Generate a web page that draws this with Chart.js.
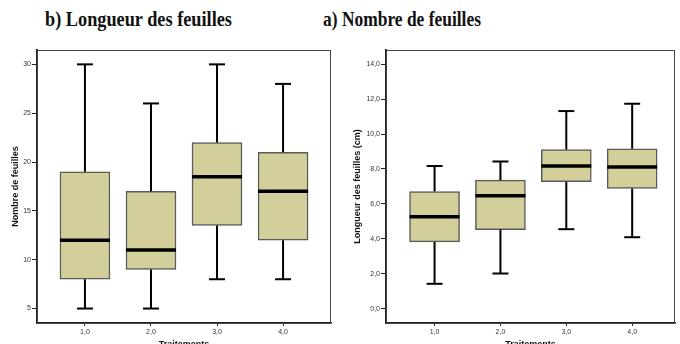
<!DOCTYPE html>
<html>
<head>
    <title>Boxplots feuilles</title>
    <script src="https://cdn.jsdelivr.net/npm/chart.js"></script>
    <style>
        body { margin: 0; width: 680px; height: 344px; overflow: hidden; position: relative; background: #fff; }
        .panel { position: absolute; top: 0; width: 340px; height: 344px; }
        .panel canvas { display: block; }
        .ttl { position: absolute; top: 7px; font: bold 21px "Liberation Serif", serif; color: #111; white-space: nowrap; transform-origin: left top; }
    </style>
</head>
<body>
    <div class="ttl" style="left:45px; transform: scaleX(0.87);">b) Longueur des feuilles</div>
    <div class="ttl" style="left:323px; transform: scaleX(0.83);">a) Nombre de feuilles</div>
    <div class="panel" style="left:0"><canvas id="c1" width="340" height="344"></canvas></div>
    <div class="panel" style="left:340px"><canvas id="c2" width="340" height="344"></canvas></div>

    <script>
        // treatments
        const traitements = [1, 2, 3, 4];

        // left panel: Nombre de feuilles
        const nbMin = [5, 5, 8, 8];
        const nbQ1 = [8, 9, 13.5, 12];
        const nbMed = [12, 11, 18.5, 17];
        const nbQ3 = [19, 17, 22, 21];
        const nbMax = [30, 26, 30, 28];
        const nbTicks = [5, 10, 15, 20, 25, 30];

        // right panel: Longueur des feuilles (cm)
        const lgMin = [1.42, 2.01, 4.55, 4.09];
        const lgQ1 = [3.82, 4.53, 7.27, 6.88];
        const lgMed = [5.26, 6.46, 8.17, 8.11];
        const lgQ3 = [6.71, 7.36, 9.12, 9.16];
        const lgMax = [8.17, 8.43, 11.32, 11.74];
        const lgTicks = [0, 2, 4, 6, 8, 10, 12, 14];

        const fill = '#d3cf9b';
        const frame = {
            id: 'frame',
            afterDraw(chart) {
                const a = chart.chartArea, ctx = chart.ctx;
                ctx.save();
                ctx.strokeStyle = '#444';
                ctx.lineWidth = 1;
                ctx.strokeRect(a.left + 0.5, a.top + 0.5, a.right - a.left - 1, a.bottom - a.top);
                ctx.restore();
            }
        };

        function makeBoxChart(id, mins, q1, med, q3, maxs, ticks, opts) {
            const whiskers = [];
            traitements.forEach((t, i) => {
                whiskers.push({ x: t, y: mins[i] }, { x: t, y: q1[i] }, { x: t, y: null });
                whiskers.push({ x: t, y: q3[i] }, { x: t, y: maxs[i] }, { x: t, y: null });
            });
            const caps = [];
            traitements.forEach((t, i) => {
                caps.push({ x: t, y: mins[i] }, { x: t, y: maxs[i] });
            });

            return new Chart(document.getElementById(id), {
                data: {
                    datasets: [
                        {
                            type: 'scatter', order: 0,
                            data: traitements.map((t, i) => ({ x: t, y: med[i] })),
                            pointStyle: 'line', pointRadius: 25, borderWidth: 3.5, borderColor: '#000'
                        },
                        {
                            type: 'scatter', order: 1, data: caps,
                            pointStyle: 'line', pointRadius: 8, borderWidth: 2, borderColor: '#000'
                        },
                        {
                            type: 'line', order: 2, data: whiskers, spanGaps: false,
                            borderColor: '#000', borderWidth: 2, pointRadius: 0
                        },
                        {
                            type: 'bar', order: 3,
                            data: traitements.map((t, i) => ({ x: t, y: [q1[i], q3[i]] })),
                            backgroundColor: fill, borderColor: '#5a5a5a', borderWidth: 1.5,
                            borderSkipped: false, barThickness: 50
                        }
                    ]
                },
                options: {
                    responsive: false,
                    animation: false,
                    layout: { autoPadding: false, padding: { top: 50, right: opts.padRight, left: 0, bottom: 0 } },
                    plugins: { legend: { display: false }, tooltip: { enabled: false } },
                    scales: {
                        x: {
                            type: 'linear', min: opts.xMin, max: opts.xMax, offset: false,
                            afterBuildTicks: s => { s.ticks = traitements.map(v => ({ value: v })); },
                            afterFit: s => { s.height = 21; },
                            ticks: {
                                callback: v => v.toFixed(1).replace('.', ','),
                                font: { family: 'Liberation Sans', size: 7 }, color: '#333', padding: 2,
                                maxRotation: 0
                            },
                            grid: { drawOnChartArea: false, tickLength: 3, color: '#222', offset: false },
                            border: { display: true, color: '#222', width: 1.5 },
                            title: {
                                display: true, text: 'Traitements',
                                font: { family: 'Liberation Sans', size: 9, weight: 'bold' }, color: '#111',
                                padding: { top: 0, bottom: -6 }
                            }
                        },
                        y: {
                            type: 'linear', min: opts.yMin, max: opts.yMax,
                            afterBuildTicks: s => { s.ticks = ticks.map(v => ({ value: v })); },
                            afterFit: s => { s.width = opts.yWidth; },
                            ticks: {
                                callback: opts.fmt,
                                font: { family: 'Liberation Sans', size: 7 }, color: '#333', padding: 1
                            },
                            grid: { drawOnChartArea: false, tickLength: 5, color: '#222' },
                            border: { display: true, color: '#222', width: 2 },
                            title: {
                                display: true, text: opts.yTitle,
                                font: { family: 'Liberation Sans', size: 9, weight: 'bold' }, color: '#111',
                                padding: { top: opts.titlePad, bottom: 0 }
                            }
                        }
                    }
                },
                plugins: [frame]
            });
        }

        makeBoxChart('c1', nbMin, nbQ1, nbMed, nbQ3, nbMax, nbTicks, {
            xMin: 0.274, xMax: 4.726, yMin: 3.52, yMax: 31.47, yWidth: 37, padRight: 9,
            yTitle: 'Nombre de feuilles', titlePad: 10, fmt: v => String(v)
        });

        makeBoxChart('c2', lgMin, lgQ1, lgMed, lgQ3, lgMax, lgTicks, {
            xMin: 0.263, xMax: 4.65, yMin: -0.826, yMax: 14.82, yWidth: 46, padRight: 5,
            yTitle: 'Longueur des feuilles (cm)', titlePad: 12, fmt: v => v.toFixed(1).replace('.', ',')
        });
    </script>
</body>
</html>
